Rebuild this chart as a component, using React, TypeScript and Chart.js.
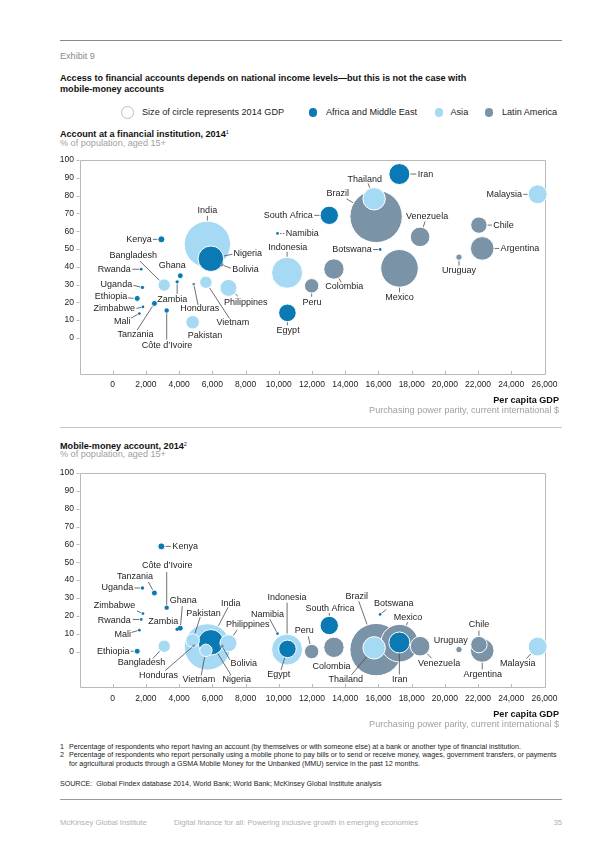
import React, { useEffect, useRef } from 'react';
import { Chart, registerables } from 'chart.js';

Chart.register(...registerables);

const FONT = "'Liberation Sans', Arial, Helvetica, sans-serif";

// ---------- data ----------
const countries = [
  'India', 'Nigeria', 'Kenya', 'Ghana', 'Zambia', 'Bangladesh', 'Uganda', 'Ethiopia', 'Zimbabwe',
  'Tanzania', 'Mali', 'Côte d’Ivoire', 'Honduras', 'Vietnam', 'Philippines', 'Pakistan', 'Bolivia',
  'Rwanda', 'Indonesia', 'Egypt', 'Namibia', 'South Africa', 'Iran', 'Thailand', 'Brazil', 'Malaysia',
  'Chile', 'Argentina', 'Venezuela', 'Botswana', 'Uruguay', 'Mexico', 'Colombia', 'Peru',
];
// A = Africa and Middle East, S = Asia, L = Latin America
const regions = [
  'S', 'A', 'A', 'A', 'A', 'S', 'A', 'A', 'A',
  'A', 'A', 'A', 'L', 'S', 'S', 'S', 'L',
  'A', 'S', 'A', 'A', 'A', 'A', 'S', 'L', 'S',
  'L', 'L', 'L', 'A', 'L', 'L', 'L', 'L',
];
// Per capita GDP, PPP, current international $
const gdpPerCapita = [
  5700, 5910, 2930, 4070, 3880, 3100, 1790, 1475, 1820,
  2510, 1605, 3250, 4880, 5610, 6970, 4810, 6580,
  1715, 10500, 10520, 9920, 13040, 17260, 15740, 15860, 25590,
  22050, 22250, 18510, 16100, 20850, 17270, 13320, 11980,
];
// Account at a financial institution, 2014 (% of population 15+)
const finAccount = [
  52.6, 44.5, 55.4, 34.9, 31.5, 29.7, 28.4, 22.2, 17.4,
  19.4, 13.7, 15.4, 30.2, 31.3, 28.1, 8.8, 41.1,
  38.6, 36.6, 14.1, 58.7, 68.9, 92.1, 78.2, 68.3, 80.7,
  63.4, 50.3, 56.8, 49.7, 45.4, 39.1, 38.7, 29.3,
];
// Mobile-money account, 2014 (% of population 15+)
const mobileMoney = [
  2.6, 5.2, 58.9, 13.1, 12.5, 3.0, 35.6, 0.2, 21.3,
  32.8, 12.0, 24.6, 3.2, 0.7, 4.7, 6.2, 3.0,
  18.0, 1.1, 1.5, 10.1, 14.6, 5.1, 2.1, 1.1, 2.8,
  3.9, 0.6, 3.0, 20.8, 1.1, 4.7, 2.4, 0.0,
];
// 2014 GDP, $ billion (circle size)
const gdpBillions = [
  1980, 580, 35, 15, 5.5, 125, 5.5, 24, 3,
  24, 3, 11, 3, 125, 246, 153, 5.5,
  3, 865, 265, 3, 291, 384, 440, 2540, 311,
  228, 491, 333, 3, 28, 1288, 362, 173,
];
const xTicks = [0, 2000, 4000, 6000, 8000, 10000, 12000, 14000, 16000, 18000, 20000, 22000, 24000, 26000];
const yTicks = [0, 10, 20, 30, 40, 50, 60, 70, 80, 90, 100];

const regionColors: Record<string, string> = { A: '#0b79b3', S: '#a6d9f3', L: '#7b93a7' };

// ---------- label layout (pixel offsets from bubble centre) ----------
type Spec = [number, number, 'l' | 'r' | 'c', number?, number?];

const labels1: Record<string, Spec> = {
  India: [0, -34, 'c', 0, -28.5],
  Nigeria: [22.7, -5.4, 'l', 21.5, -4.5],
  Kenya: [-9.5, 0, 'r', -8.5, 0],
  Bangladesh: [-31, -29.7, 'c', -24.3, -24],
  Rwanda: [-10.5, 0, 'r', -9, 0],
  Ghana: [-8, -10.7, 'c'],
  Uganda: [-10.3, -3.3, 'r', -9, -2],
  Zambia: [-5, 17.3, 'c', 0, 12],
  Ethiopia: [-10, -1.6, 'r', -9, -0.5],
  Zimbabwe: [-8, 2, 'r', -6.5, 1.5],
  Tanzania: [-19, 30.7, 'c', -17.3, 26.7],
  Mali: [-17, 7.7, 'c', -8.5, 4.7],
  'Côte d’Ivoire': [0.3, 34.7, 'c', 0, 29],
  Honduras: [6, 24.7, 'c', 4.3, 20.7],
  Vietnam: [27, 40.3, 'c', 23.6, 36.3],
  Pakistan: [12.3, 13, 'c'],
  Philippines: [17.3, 15, 'c', 9.4, 8.3],
  Bolivia: [10.3, 4.3, 'l', 9, 3.5],
  Indonesia: [0.6, -25.7, 'c', 0, -21],
  Egypt: [0.7, 17.6, 'c', 0, 12.5],
  Namibia: [8.3, 0, 'l', 7, 0],
  'South Africa': [-16.5, 0, 'r', -15, 0],
  Iran: [18.5, 0, 'l', 17, 0],
  Thailand: [-9.3, -19.7, 'c', -6, -15.4],
  Brazil: [-38.3, -22.6, 'c', -29.6, -17.6],
  Malaysia: [-15.6, 0, 'r', -14.5, 0],
  Venezuela: [7, -20.4, 'c', 5, -15.5],
  Chile: [14.3, 0, 'l', 13, 0],
  Argentina: [18.4, 0, 'l', 17, 0],
  Botswana: [-8.3, 0, 'r', -7, 0],
  Uruguay: [0, 13, 'c', 0, 8.5],
  Mexico: [0, 29, 'c', 0, 24],
  Colombia: [10.3, 17, 'c', 7.3, 13.3],
  Peru: [0.3, 16.6, 'c', 0, 11],
};

const labels2: Record<string, Spec> = {
  Kenya: [11, 0, 'l', 9.5, 0],
  'Côte d’Ivoire': [0.6, -42.3, 'c', 0, -35.5],
  Tanzania: [-19.3, -16, 'c', -6, -11],
  Uganda: [-9.3, 0, 'r', -8, 0],
  Ghana: [3, -27.7, 'c', 2, -22],
  Zimbabwe: [-7.6, -7.6, 'r', -6, -2.6],
  Rwanda: [-10.4, 1.3, 'r', -8.5, 0],
  Zambia: [-14, -8, 'c'],
  Mali: [-16.7, 4.6, 'c', -8, 2.3],
  Ethiopia: [-7.7, 0, 'r', -6.5, 0],
  Bangladesh: [-22.7, 16.6, 'c', -11.3, 12.3],
  Pakistan: [11, -27.3, 'c', 7.6, -23.3],
  India: [23.3, -43.6, 'c', 20.7, -39.6],
  Philippines: [19.3, -18.4, 'c', 8.6, -13.4],
  Honduras: [-35.3, 29.7, 'c', -28.6, 24.7],
  Vietnam: [-7, 29.3, 'c', -4.7, 25],
  Nigeria: [26, 37.3, 'c', 20, 32.6],
  Bolivia: [21.7, 17.6, 'c', 8, 13.6],
  Indonesia: [0, -52.3, 'c', 0, -47],
  Namibia: [-10, -19, 'c', -7.6, -14.3],
  Egypt: [-8.7, 25.4, 'c', -6.4, 21],
  Peru: [-7.4, -20.7, 'c', -3.4, -15.3],
  'South Africa': [0.7, -16.7, 'c', 0, -12.5],
  Colombia: [-2.3, 19.3, 'c'],
  Brazil: [-19.3, -53.3, 'c', -17.3, -48.3],
  Thailand: [-28.3, 31.7, 'c', -22.6, 27],
  Botswana: [13.6, -10.7, 'c', 6.3, -5],
  Mexico: [8.6, -26, 'c', 8, -21],
  Iran: [0.3, 37, 'c', 0, 32],
  Venezuela: [19, 17, 'c', 11.4, 12],
  Uruguay: [-8.3, -9.3, 'c'],
  Chile: [0, -19.7, 'c', 0, -14],
  Argentina: [0.6, 23.7, 'c', 0, 19],
  Malaysia: [-20, 16.7, 'c', -11.3, 12],
};

const bubbleRadius = (gdp: number) => 0.51 * Math.sqrt(gdp) + 0.5;

const CANVAS_H = 250;
const PLOT_TOP = 10;
const PLOT_LEFT = 79.5;
const PLOT_RIGHT = 544.5;

function BubbleChart({ values, labels, top, plotH, dashed }: {
  values: number[]; labels: Record<string, Spec>; top: number; plotH: number; dashed: string[];
}) {
  const ref = useRef<HTMLCanvasElement>(null);
  useEffect(() => {
    const canvas = ref.current!;
    const points = countries
      .map((name, i) => ({ x: gdpPerCapita[i], y: values[i], r: bubbleRadius(gdpBillions[i]), name, region: regions[i] }))
      .sort((a, b) => b.r - a.r);

    const overlay = {
      id: 'overlay',
      beforeDatasetsDraw(chart: any) {
        const { ctx, chartArea: a, scales } = chart;
        ctx.save();
        ctx.strokeStyle = '#b9b9b9';
        ctx.lineWidth = 1;
        ctx.beginPath();
        ctx.rect(Math.round(a.left) + 0.5, Math.round(a.top) + 0.5, Math.round(a.right - a.left), Math.round(a.bottom - a.top));
        for (const v of yTicks) {
          const y = Math.round(scales.y.getPixelForValue(v)) + 0.5;
          ctx.moveTo(a.left - 3, y);
          ctx.lineTo(a.left, y);
        }
        for (const v of xTicks) {
          const x = Math.round(scales.x.getPixelForValue(v)) + 0.5;
          ctx.moveTo(x, Math.round(a.bottom));
          ctx.lineTo(x, Math.round(a.bottom) - 3);
        }
        ctx.stroke();
        ctx.restore();
      },
      afterDatasetsDraw(chart: any) {
        const ctx = chart.ctx;
        const meta = chart.getDatasetMeta(0);
        ctx.save();
        meta.data.forEach((el: any, i: number) => {
          const p = points[i];
          const spec = labels[p.name];
          if (!spec) return;
          const [tx, ty, al, lx, ly] = spec;
          const cx = el.x;
          const cy = el.y;
          if (lx !== undefined && ly !== undefined) {
            const d = Math.hypot(lx, ly);
            const e = p.r + 0.6;
            if (d > e) {
              ctx.beginPath();
              ctx.setLineDash(dashed.includes(p.name) ? [1.6, 1.2] : []);
              ctx.moveTo(cx + lx, cy + ly);
              ctx.lineTo(cx + (lx / d) * e, cy + (ly / d) * e);
              ctx.strokeStyle = '#4a4a4a';
              ctx.lineWidth = 0.8;
              ctx.stroke();
            }
          }
          ctx.setLineDash([]);
          ctx.font = `9px ${FONT}`;
          ctx.fillStyle = '#1e1e1e';
          ctx.textAlign = al === 'l' ? 'left' : al === 'r' ? 'right' : 'center';
          ctx.textBaseline = 'middle';
          ctx.fillText(p.name, cx + tx, cy + ty);
        });
        ctx.restore();
      },
    };

    const chart = new Chart(canvas, {
      type: 'bubble',
      data: {
        datasets: [{
          data: points as any,
          backgroundColor: points.map((p) => regionColors[p.region]),
          borderColor: '#ffffff',
          borderWidth: points.map((p) => (p.r > 2.6 ? 1 : 0)),
          clip: false as any,
        }],
      },
      options: {
        responsive: false,
        animation: false,
        devicePixelRatio: 1,
        events: [],
        layout: { autoPadding: false, padding: { top: PLOT_TOP, right: 600 - PLOT_RIGHT, left: 0, bottom: 0 } },
        plugins: { legend: { display: false }, tooltip: { enabled: false } },
        scales: {
          x: {
            type: 'linear',
            min: -2000,
            max: 26000,
            afterBuildTicks: (s: any) => { s.ticks = xTicks.map((v) => ({ value: v })); },
            afterFit: (s: any) => {
              s.height = CANVAS_H - PLOT_TOP - plotH;
              s.paddingLeft = 0; s.paddingRight = 0; s.paddingTop = 0; s.paddingBottom = 0;
            },
            ticks: {
              callback: (v: any) => Number(v).toLocaleString('en-US'),
              font: { size: 8.5, family: FONT },
              color: '#222',
              padding: 6,
              maxRotation: 0,
              autoSkip: false,
            },
            grid: { display: false, drawTicks: false },
            border: { display: false },
          },
          y: {
            type: 'linear',
            min: -20,
            max: 100,
            afterBuildTicks: (s: any) => { s.ticks = yTicks.map((v) => ({ value: v })); },
            afterFit: (s: any) => {
              s.width = PLOT_LEFT;
              s.paddingLeft = 0; s.paddingRight = 0; s.paddingTop = 0; s.paddingBottom = 0;
            },
            ticks: {
              callback: (v: any) => String(v),
              font: { size: 8.5, family: FONT },
              color: '#222',
              padding: 5.5,
              autoSkip: false,
            },
            grid: { display: false, drawTicks: false },
            border: { display: false },
          },
        },
      },
      plugins: [overlay],
    } as any);
    return () => chart.destroy();
  }, []);
  return (
    <canvas
      ref={ref}
      width={600}
      height={CANVAS_H}
      style={{ position: 'absolute', left: 0, top, width: 600, height: CANVAS_H }}
    />
  );
}

function Txt({ x, y, s = 9.1, w = 400, c = '#111', a = 'left', children }: any) {
  const style: any = {
    position: 'absolute',
    top: y - s * 0.62,
    fontSize: s,
    fontWeight: w,
    color: c,
    lineHeight: `${s * 1.2}px`,
    whiteSpace: 'nowrap',
    fontFamily: FONT,
  };
  if (a === 'left') style.left = x;
  else if (a === 'right') style.right = 600 - x;
  else { style.left = x; style.transform = 'translateX(-50%)'; }
  return <div style={style}>{children}</div>;
}

function Rule({ y, c }: { y: number; c: string }) {
  return <div style={{ position: 'absolute', left: 60, top: y, width: 502, height: 1, background: c }} />;
}

function Dot({ x, y, r, fill, stroke }: any) {
  return (
    <div style={{
      position: 'absolute', left: x - r, top: y - r, width: r * 2, height: r * 2, borderRadius: '50%',
      background: fill || 'transparent', boxSizing: 'border-box', border: stroke ? `1px solid ${stroke}` : 'none',
    }} />
  );
}

const sup = (t: string) => <span style={{ fontSize: 5.5, verticalAlign: 3, fontWeight: 400 }}>{t}</span>;

export default function App() {
  const legendY = 112.7;
  return (
    <div style={{ position: 'absolute', left: 0, top: 0, width: 600, height: 848, background: '#fff', overflow: 'hidden', fontFamily: FONT }}>
      <Rule y={40} c="#8a8a8a" />
      <Txt x={60} y={57} c="#8a8a8a">Exhibit 9</Txt>
      <Txt x={60} y={79} w={700}>Access to financial accounts depends on national income levels—but this is not the case with</Txt>
      <Txt x={60} y={89.5} w={700}>mobile-money accounts</Txt>

      <Dot x={127} y={legendY} r={6.5} stroke="#bdbdbd" />
      <Txt x={142} y={legendY} c="#222">Size of circle represents 2014 GDP</Txt>
      <Dot x={313} y={legendY} r={4.3} fill={regionColors.A} />
      <Txt x={326} y={legendY} c="#222">Africa and Middle East</Txt>
      <Dot x={439} y={legendY} r={4.3} fill={regionColors.S} />
      <Txt x={450.5} y={legendY} c="#222">Asia</Txt>
      <Dot x={489} y={legendY} r={4.3} fill={regionColors.L} />
      <Txt x={502} y={legendY} c="#222">Latin America</Txt>

      <Txt x={60} y={132.7} w={700}>Account at a financial institution, 2014{sup('1')}</Txt>
      <Txt x={60} y={143.3} c="#a0a0a0">% of population, aged 15+</Txt>
      <BubbleChart values={finAccount} labels={labels1} top={150} plotH={213.5} dashed={['Namibia']} />
      <Txt x={559} y={400.7} w={700} a="right">Per capita GDP</Txt>
      <Txt x={559} y={410.3} c="#a0a0a0" a="right">Purchasing power parity, current international $</Txt>
      <Rule y={427} c="#c4c4c4" />

      <Txt x={60} y={445} w={700}>Mobile-money account, 2014{sup('2')}</Txt>
      <Txt x={60} y={454.5} c="#a0a0a0">% of population, aged 15+</Txt>
      <BubbleChart values={mobileMoney} labels={labels2} top={462.7} plotH={214.3} dashed={[]} />
      <Txt x={559} y={715} w={700} a="right">Per capita GDP</Txt>
      <Txt x={559} y={724.5} c="#a0a0a0" a="right">Purchasing power parity, current international $</Txt>

      <Txt x={60} y={747} s={7.1} c="#222">1</Txt>
      <Txt x={69} y={747} s={7.1} c="#222">Percentage of respondents who report having an account (by themselves or with someone else) at a bank or another type of financial institution.</Txt>
      <Txt x={60} y={755.8} s={7.1} c="#222">2</Txt>
      <Txt x={69} y={755.8} s={7.1} c="#222">Percentage of respondents who report personally using a mobile phone to pay bills or to send or receive money, wages, government transfers, or payments</Txt>
      <Txt x={69} y={764.5} s={7.1} c="#222">for agricultural products through a GSMA Mobile Money for the Unbanked (MMU) service in the past 12 months.</Txt>
      <Txt x={60} y={784} s={7.1} c="#222">SOURCE:&nbsp; Global Findex database 2014, World Bank; World Bank; McKinsey Global Institute analysis</Txt>
      <Rule y={798.5} c="#9a9a9a" />
      <Txt x={60} y={822.3} s={7.7} c="#b0b0b0">McKinsey Global Institute</Txt>
      <Txt x={174} y={822.3} s={7.7} c="#b0b0b0">Digital finance for all: Powering inclusive growth in emerging economies</Txt>
      <Txt x={562} y={822.3} s={7.7} c="#b0b0b0" a="right">35</Txt>
    </div>
  );
}
